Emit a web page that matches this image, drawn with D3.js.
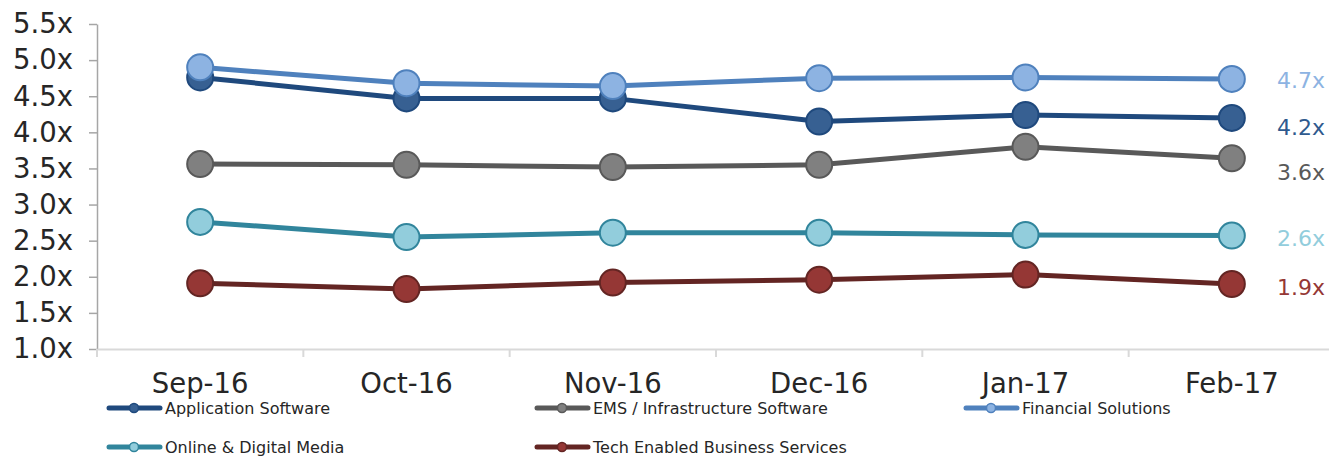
<!DOCTYPE html>
<html>
<head>
<meta charset="utf-8">
<script src="https://cdn.jsdelivr.net/npm/d3@7"></script>
<style>
  body { margin: 0; background: #fff; }
  svg { display: block; font-family: "DejaVu Sans", Verdana, sans-serif; }
</style>
</head>
<body>
<div class="chart"></div>
<script>
// data
const months = ["Sep-16", "Oct-16", "Nov-16", "Dec-16", "Jan-17", "Feb-17"]
const yTicks = [1.0, 1.5, 2.0, 2.5, 3.0, 3.5, 4.0, 4.5, 5.0, 5.5]

const seriesNames = ["Application Software", "EMS / Infrastructure Software", "Financial Solutions", "Online & Digital Media", "Tech Enabled Business Services"]
const appSoftware = [4.76, 4.47, 4.47, 4.15, 4.24, 4.20]
const emsInfra = [3.56, 3.55, 3.52, 3.55, 3.80, 3.64]
const finSolutions = [4.90, 4.68, 4.64, 4.75, 4.76, 4.74]
const onlineMedia = [2.76, 2.55, 2.61, 2.61, 2.58, 2.57]
const techServices = [1.91, 1.83, 1.92, 1.96, 2.03, 1.90]
const endLabels = ["4.2x", "3.6x", "4.7x", "2.6x", "1.9x"]

// styles
const styles = [
  {line: "#1F497D", fill: "#376092", label: "#2F5A8E", dy: 10},
  {line: "#595959", fill: "#808080", label: "#595959", dy: 14},
  {line: "#4F81BD", fill: "#8DB3E2", label: "#8DB3E2", dy: 2},
  {line: "#31859C", fill: "#92CDDC", label: "#92CDDC", dy: 3},
  {line: "#632523", fill: "#953735", label: "#953735", dy: 3}
]

const allValues = [appSoftware, emsInfra, finSolutions, onlineMedia, techServices]
const series = seriesNames.map((name, i) => ({name, values: allValues[i], end: endLabels[i], style: styles[i]}))

const w = 1329
const h = 457
const font = '"DejaVu Sans", Verdana, sans-serif'

const svg = d3.select(".chart").append("svg")
  .attr("width", w)
  .attr("height", h)

// scales
const x = d3.scaleBand()
  .domain(months)
  .range([97, 1335])

const y = d3.scaleLinear()
  .domain([1.0, 5.5])
  .range([349, 24])

// y axis
const yAxis = d3.axisLeft(y)
  .tickValues(yTicks)
  .tickFormat(d => d3.format(".1f")(d) + "x")
  .tickSize(8)
  .tickSizeOuter(0)

const yg = svg.append("g")
  .attr("transform", "translate(97,0)")
  .call(yAxis)
yg.attr("font-family", font)
yg.select(".domain").attr("stroke", "#A6A6A6").attr("stroke-width", 1.5)
yg.selectAll(".tick line").attr("stroke", "#A6A6A6").attr("stroke-width", 1.5)
yg.selectAll(".tick text")
  .attr("x", -24)
  .attr("fill", "#262626")
  .style("font-size", "27.5px")

// x axis
const xAxis = d3.axisBottom(x).tickSize(0).tickSizeOuter(0)
const xg = svg.append("g")
  .attr("transform", "translate(0,349)")
  .call(xAxis)
xg.attr("font-family", font)
xg.select(".domain").attr("stroke", "#D9D9D9").attr("stroke-width", 2)
xg.selectAll(".tick text")
  .attr("y", 24)
  .attr("fill", "#262626")
  .style("font-size", "27.5px")

// ticks between categories
svg.append("g")
  .selectAll("line")
  .data(months)
  .enter()
  .append("line")
  .attr("x1", d => x(d))
  .attr("x2", d => x(d))
  .attr("y1", 349)
  .attr("y2", 357)
  .attr("stroke", "#D9D9D9")
  .attr("stroke-width", 2)

// lines + markers
const line = d3.line()
  .x((d, i) => x(months[i]) + x.bandwidth() / 2)
  .y(d => y(d))

const sg = svg.append("g")
  .selectAll("g")
  .data(series)
  .enter()
  .append("g")

sg.append("path")
  .attr("d", d => line(d.values))
  .attr("fill", "none")
  .attr("stroke", d => d.style.line)
  .attr("stroke-width", 5)

sg.selectAll("circle")
  .data(d => d.values.map((v, i) => ({v, i, s: d.style})))
  .enter()
  .append("circle")
  .attr("cx", d => x(months[d.i]) + x.bandwidth() / 2)
  .attr("cy", d => y(d.v))
  .attr("r", 13)
  .attr("fill", d => d.s.fill)
  .attr("stroke", d => d.s.line)
  .attr("stroke-width", 2)

// end labels
svg.append("g")
  .selectAll("text")
  .data(series)
  .enter()
  .append("text")
  .attr("x", 1277)
  .attr("y", d => y(d.values[d.values.length - 1]) + d.style.dy)
  .attr("dominant-baseline", "central")
  .attr("fill", d => d.style.label)
  .style("font-size", "22px")
  .text(d => d.end)

// legend
const legendCols = [107, 535, 964]
const legend = svg.append("g")
  .selectAll("g")
  .data(series)
  .enter()
  .append("g")
  .attr("transform", (d, i) => "translate(" + legendCols[i % 3] + "," + (408 + Math.floor(i / 3) * 39) + ")")

legend.append("line")
  .attr("x1", 2).attr("x2", 53)
  .attr("stroke", d => d.style.line)
  .attr("stroke-width", 5)
  .attr("stroke-linecap", "round")

legend.append("circle")
  .attr("cx", 27)
  .attr("r", 4.5)
  .attr("fill", d => d.style.fill)
  .attr("stroke", d => d.style.line)
  .attr("stroke-width", 1.5)

legend.append("text")
  .attr("x", 58)
  .attr("dominant-baseline", "central")
  .attr("fill", "#262626")
  .style("font-size", "16px")
  .text(d => d.name)
</script>
</body>
</html>
